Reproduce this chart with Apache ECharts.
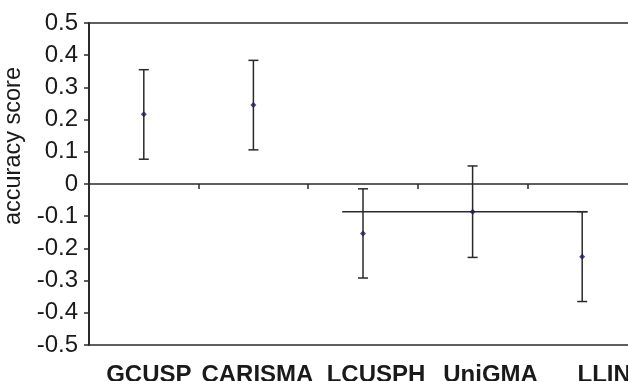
<!DOCTYPE html>
<html>
<head>
<meta charset="utf-8">
<script src="https://cdn.jsdelivr.net/npm/echarts@6/dist/echarts.min.js"></script>
<style>
html,body{margin:0;padding:0;background:#fff;}
#chart{width:628px;height:381px;}
</style>
</head>
<body>
<div id="chart"></div>
<script>
// ---- data ----
const categories = ['GCUSP', 'CARISMA', 'LCUSPH', 'UniGMA', 'LLIN'];
const meanScore  = [0.217, 0.245, -0.154, -0.086, -0.226];
const upperBound = [0.355, 0.384, -0.015, 0.056, -0.086];
const lowerBound = [0.077, 0.106, -0.292, -0.228, -0.365];
// horizontal reference line (in category-index units along x)
const refLineX = [1.81, 4.05];
const refLineY = -0.086;
const yTickLabels = ['-0.5','-0.4','-0.3','-0.2','-0.1','0','0.1','0.2','0.3','0.4','0.5'];

// ---- styling ----
const lineColor = '#2a2a2a';
const textColor = '#1a1a1a';
const font = 'Liberation Sans, Arial, Helvetica, sans-serif';
// labels in the reference drift to the right of their category centres (px)
const labelShiftPx = [5, 4, 13, 18, 22];

const chart = echarts.init(document.getElementById('chart'), null, {renderer: 'canvas'});

const errorData = categories.map((c, i) => [i, lowerBound[i], upperBound[i]]);
const refLineData = refLineX.map(x => [x, refLineY]);
const labelData = categories.map((c, i) => ({
  value: c,
  textStyle: {padding: [0, 0, 0, labelShiftPx[i] * 2]}
}));

chart.setOption({
  animation: false,
  backgroundColor: '#ffffff',
  grid: {
    left: 89, top: 23, right: -9, bottom: 36,
    outerBoundsMode: 'none', containLabel: false,
    show: true, borderColor: lineColor, borderWidth: 1.5, backgroundColor: 'transparent'
  },
  xAxis: [
    { // axis on zero line with ticks at category boundaries
      type: 'category', data: categories, position: 'bottom',
      axisLine: {show: true, onZero: true, lineStyle: {color: lineColor, width: 1.5}},
      axisTick: {show: true, length: 5, lineStyle: {color: lineColor, width: 1.5}},
      axisLabel: {show: false},
      splitLine: {show: false}
    },
    { // category labels along the bottom
      type: 'category', data: labelData, position: 'bottom',
      axisLine: {show: false, onZero: false},
      axisTick: {show: false},
      axisLabel: {show: true, interval: 0, hideOverlap: false, margin: 18,
        color: textColor, fontFamily: font, fontSize: 24, fontWeight: 'bold'},
      splitLine: {show: false}
    },
    { // hidden linear axis for the reference line
      type: 'value', min: -0.5, max: 4.5, show: false, position: 'bottom',
      axisLine: {onZero: false}, splitLine: {show: false}
    }
  ],
  yAxis: {
    type: 'value', min: -0.5, max: 0.5, interval: 0.1,
    name: 'accuracy score', nameLocation: 'middle', nameRotate: 90, nameGap: 59,
    nameTextStyle: {color: textColor, fontFamily: font, fontSize: 23.5, padding: [0, 0, 0, 76]},
    axisLine: {show: true, onZero: false, lineStyle: {color: lineColor, width: 2}},
    axisTick: {show: true, length: 5, lineStyle: {color: lineColor, width: 1.5}},
    axisLabel: {
      color: textColor, fontFamily: font, fontSize: 24, margin: 11,
      formatter: v => yTickLabels[Math.round((v + 0.5) * 10)]
    },
    splitLine: {show: false}
  },
  series: [
    {
      type: 'custom', xAxisIndex: 0, yAxisIndex: 0,
      data: errorData,
      renderItem: function (params, api) {
        const x = api.value(0);
        const lo = api.coord([x, api.value(1)]);
        const hi = api.coord([x, api.value(2)]);
        const hw = 5;
        const style = {stroke: lineColor, lineWidth: 1.5};
        return {
          type: 'group',
          children: [
            {type: 'line', shape: {x1: lo[0], y1: lo[1], x2: hi[0], y2: hi[1]}, style: style},
            {type: 'line', shape: {x1: lo[0] - hw, y1: lo[1], x2: lo[0] + hw, y2: lo[1]}, style: style},
            {type: 'line', shape: {x1: hi[0] - hw, y1: hi[1], x2: hi[0] + hw, y2: hi[1]}, style: style}
          ]
        };
      },
      z: 2
    },
    {
      type: 'line', xAxisIndex: 2, yAxisIndex: 0,
      data: refLineData, symbol: 'none',
      lineStyle: {color: lineColor, width: 1.5}, z: 2
    },
    {
      type: 'scatter', xAxisIndex: 0, yAxisIndex: 0,
      data: meanScore, symbol: 'diamond', symbolSize: 6,
      itemStyle: {color: '#1c1c5e'}, z: 3
    }
  ]
});
</script>
</body>
</html>
